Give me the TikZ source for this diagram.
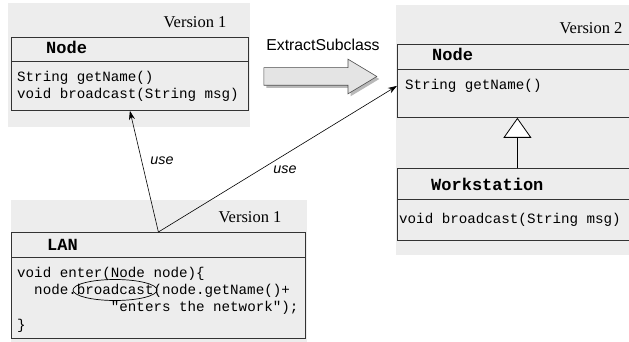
\documentclass[tikz,border=0pt]{standalone}
\usepackage{fontspec}
\setmainfont{Liberation Serif}
\newfontfamily\codefont{Liberation Mono}
\newfontfamily\labelfont{Liberation Sans}
\usetikzlibrary{arrows.meta,shapes.geometric,shapes.arrows,shadows}
\definecolor{bggray}{RGB}{237,237,237}
\definecolor{arrowgray}{RGB}{228,228,228}
\tikzset{
  panel/.style={fill=bggray, draw=none, anchor=north west, inner sep=0pt},
  cls/.style={draw=black!80, fill=bggray, anchor=north west, inner sep=0pt, line width=0.8pt},
  hdr/.style={anchor=base west, inner sep=0pt, font=\codefont\bfseries\fontsize{17}{20}\selectfont},
  code/.style={anchor=north west, inner sep=0pt, align=left, font=\codefont\fontsize{14.2}{17.2}\selectfont},
  ver/.style={inner sep=0pt, font=\fontsize{16.5}{18}\selectfont},
  uselbl/.style={inner sep=0pt, font=\labelfont\itshape\fontsize{14.3}{16}\selectfont},
  usearrow/.style={-{Stealth[length=9pt,width=6pt]}, line width=0.6pt},
}
\begin{document}
\begin{tikzpicture}[x=1pt,y=1pt]
  \useasboundingbox (0,0) rectangle (629,-342);
  % gray panels
  \node[panel, minimum width=242pt, minimum height=124pt] (panelA) at (8,-3) {};
  \node[panel, minimum width=240pt, minimum height=250pt] (panelB) at (396,-5) {};
  \node[panel, minimum width=296pt, minimum height=142pt] (panelC) at (11,-200) {};
  \node[ver] (verA) at (195,-22) {Version 1};
  \node[ver] (verB) at (591,-28) {Version 2};
  \node[ver] (verC) at (250,-217) {Version 1};

  % Node, version 1
  \node[cls, minimum width=237pt, minimum height=73pt] (node1) at (11,-37) {};
  \draw[black!80, line width=0.8pt] (11,-61) -- (248,-61);
  \node[hdr] (node1name) at (46,-54) {Node};
  \node[code] (node1ops) at (17,-71) {String getName()\\void broadcast(String msg)};

  % Node, version 2
  \node[cls, minimum width=240pt, minimum height=73pt] (node2) at (397,-44) {};
  \draw[black!80, line width=0.8pt] (397,-69) -- (637,-69);
  \node[hdr] (node2name) at (432,-61) {Node};
  \node[code] (node2ops) at (405,-79) {String getName()};

  % Workstation
  \node[cls, minimum width=240pt, minimum height=72pt] (ws) at (397,-168) {};
  \draw[black!80, line width=0.8pt] (397,-199) -- (637,-199);
  \node[hdr] (wsname) at (431,-190) {Workstation};
  \node[code] (wsops) at (399,-213) {void broadcast(String msg)};
  \draw[-{Triangle[open,fill=white,length=20pt,width=28pt]}, line width=0.8pt] (ws.north) -- (node2.south);

  % LAN
  \node[cls, minimum width=294pt, minimum height=106pt] (lan) at (11,-232) {};
  \draw[black!80, line width=0.8pt] (11,-257) -- (305,-257);
  \node[hdr] (lanname) at (47,-250) {LAN};
  \node[code] (lanops) at (17,-267) {void enter(Node node)\{\\
    \phantom{xx}node.broadcast(node.getName()+\\
    \phantom{xxxxxxxxxxx}"enters the network");\\
    \}};
  \node[ellipse, draw, line width=0.7pt, minimum width=84pt, minimum height=21pt, inner sep=0pt] (oval) at (115,-290) {};

  % use dependencies
  \draw[usearrow] (lan.north) -- (node1.south);
  \draw[usearrow] (lan.north) -- ([yshift=-5pt]node2.west);
  \node[uselbl] (use1) at (162,-161) {use};
  \node[uselbl] (use2) at (285,-170) {use};

  % refactoring arrow
  \node[single arrow, draw=black!70, fill=arrowgray, line width=0.6pt,
        minimum height=113pt, single arrow head extend=8.5pt,
        single arrow tip angle=62, inner xsep=0pt, inner ysep=8.5pt,
        drop shadow={shadow xshift=2.5pt, shadow yshift=-2.5pt, fill=black!55}] (refactor) at (313,-76.5) {};
  \node[inner sep=0pt, font=\labelfont\fontsize{15.8}{18}\selectfont] (extract) at (323,-45) {ExtractSubclass};
\end{tikzpicture}
\end{document}
